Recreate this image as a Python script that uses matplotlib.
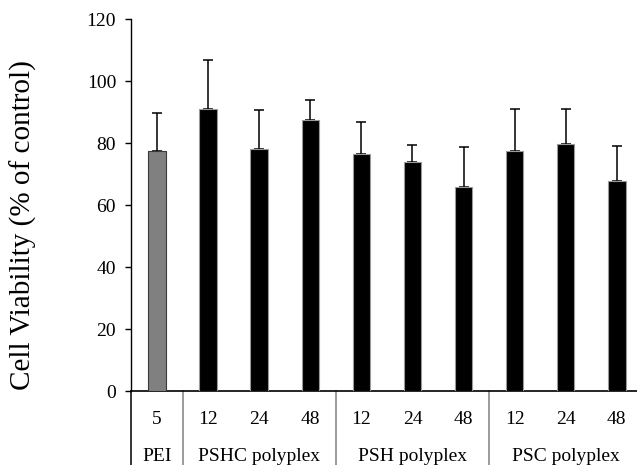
import matplotlib
matplotlib.use("Agg")
import matplotlib.pyplot as plt
import matplotlib.transforms as mtrans

# values
doses = ["5", "12", "24", "48", "12", "24", "48", "12", "24", "48"]
viability = [77.5, 91.1, 78.2, 87.4, 76.5, 73.9, 65.9, 77.5, 79.8, 67.8]
err_up = [12.1, 15.7, 12.5, 6.6, 10.2, 5.6, 12.9, 13.5, 11.2, 11.3]
groups = ["PEI", "PSHC polyplex", "PSH polyplex", "PSC polyplex"]
group_sizes = [1, 3, 3, 3]
yticks = [0, 20, 40, 60, 80, 100, 120]

plt.rcParams["font.family"] = "Liberation Serif"

fig = plt.figure(figsize=(6.37, 4.65), dpi=100)
ax = fig.add_axes([131.4/637, 74/465, 511/637, 371.7/465])

x = list(range(len(viability)))
colors = ["#808080"] + ["black"]*(len(viability) - 1)
edges = ["#3a3a3a"] + ["#9a9a9a"]*(len(viability) - 1)
# bars drawn over the error bars so only the upper half shows
ax.bar(x, viability, width=0.34, color=colors, edgecolor=edges, linewidth=0.8, zorder=3)
ax.errorbar(x, viability, yerr=[[0]*len(viability), err_up], fmt="none",
            ecolor="black", elinewidth=1.1, capsize=3.9, capthick=1.1, zorder=2)

ax.set_xlim(-0.5, 9.5)
ax.set_ylim(0, 120)
ax.set_yticks(yticks)
ax.tick_params(axis="y", direction="out", length=4, width=1, labelsize=14, pad=7)
ax.set_xticks([])
ax.spines["top"].set_visible(False)
ax.spines["right"].set_visible(False)
ax.spines["left"].set_linewidth(1)
ax.spines["bottom"].set_linewidth(1.2)
fig.text(23/637, 1 - 225/465, "Cell Viability (% of control)", rotation=90,
         ha="center", va="center", fontsize=21)

trans = mtrans.blended_transform_factory(ax.transData, ax.transAxes)
for xi, d in zip(x, doses):
    ax.text(xi, -0.0896, d, transform=trans, ha="center", va="baseline", fontsize=14)

start = 0
for gi, (name, n) in enumerate(zip(groups, group_sizes)):
    center = start + (n - 1) / 2
    ax.text(center, -0.187, name, transform=trans, ha="center", va="baseline", fontsize=14)
    edge = start - 0.5
    col = "black" if gi == 0 else "#808080"
    ax.plot([edge, edge], [0, -0.21], transform=trans, color=col, lw=1.1, clip_on=False)
    start += n

fig.savefig("out.png", dpi=100)
